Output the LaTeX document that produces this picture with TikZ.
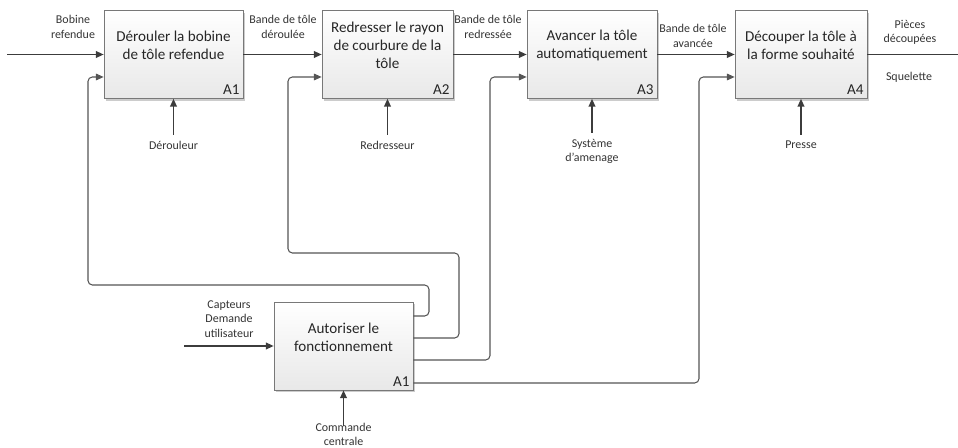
\documentclass[tikz,border=0pt]{standalone}
\usepackage{fontspec}
\setmainfont{Carlito}
\usetikzlibrary{positioning, arrows.meta, shadows}
\definecolor{BoxLine}{RGB}{120,120,120}
\definecolor{FlowGray}{RGB}{60,60,60}
\definecolor{LinkGray}{RGB}{85,85,85}

\begin{document}
\begin{tikzpicture}[x=0.02cm, y=-0.02cm,
          func/.style={rectangle, draw=BoxLine, top color=white,
                       bottom color=black!9, minimum height=1.76cm,
                       inner sep=0pt,
                       drop shadow={shadow xshift=1.2pt, shadow yshift=-1.2pt,
                                    opacity=0.2, fill=black}},
          ftext/.style={font=\fontsize{8.6}{10.3}\selectfont, align=center,
                        text=black!85},
          num/.style={font=\fontsize{8.6}{10.3}\selectfont, text=black!85,
                      anchor=south east, inner sep=2pt},
          lbl/.style={font=\fontsize{6.8}{8.3}\selectfont, align=center,
                      text=black!80},
          arr/.style={-{Triangle[length=4.4pt, width=3.8pt]}, thick, FlowGray},
          ctl/.style={-{Triangle[length=4.4pt, width=3.8pt]}, semithick,
                      LinkGray, rounded corners=2.5pt}
        ]
        \useasboundingbox (0,0) rectangle (958,448);

        % Functions
        \node[func, minimum width=2.78cm] (A1) at (173.5, 54.5) {};
        \node[func, minimum width=2.62cm] (A2) at (387.5, 54.5) {};
        \node[func, minimum width=2.60cm] (A3) at (592, 54.5) {};
        \node[func, minimum width=2.64cm] (A4) at (801, 54.5) {};
        \node[func, minimum width=2.78cm] (Z)  at (343.5, 346) {};

        \node[ftext] (t1) at ([yshift=5.1pt]A1.center)
              {Dérouler la bobine\\de tôle refendue};
        \node[ftext] (t2) at ([yshift=5.1pt]A2.center)
              {Redresser le rayon\\de courbure de la\\tôle};
        \node[ftext] (t3) at ([yshift=5.1pt]A3.center)
              {Avancer la tôle\\automatiquement};
        \node[ftext] (t4) at ([yshift=5.1pt]A4.center)
              {Découper la tôle à\\la forme souhaité};
        \node[ftext] (tz) at ([yshift=5.1pt]Z.center)
              {Autoriser le\\fonctionnement};

        \node[num] (n1) at (A1.south east) {A1};
        \node[num] (n2) at (A2.south east) {A2};
        \node[num] (n3) at (A3.south east) {A3};
        \node[num] (n4) at (A4.south east) {A4};
        \node[num] (nz) at (Z.south east)  {A1};

        % Flow labels
        \node[lbl] (l0) at (73, 27)   {Bobine\\refendue};
        \node[lbl] (l1) at (283, 27)  {Bande de tôle\\déroulée};
        \node[lbl] (l2) at (488, 27)  {Bande de tôle\\redressée};
        \node[lbl] (l3) at (693, 36)  {Bande de tôle\\avancée};
        \node[lbl] (l4) at (910, 32.5) {Pièces\\découpées};
        \node[lbl] (l5) at (909, 77)  {Squelette};
        \node[lbl] (lz) at (229, 319) {Capteurs\\Demande\\utilisateur};

        % Mechanisms
        \node[lbl] (m1) at (173.5, 145) {Dérouleur};
        \node[lbl] (m2) at (387.5, 145) {Redresseur};
        \node[lbl] (m3) at (592, 151.5) {Système\\d’amenage};
        \node[lbl] (m4) at (801, 145)   {Presse};
        \node[lbl] (mz) at (343.5, 434.5) {Commande\\centrale};

        % Free ends
        \coordinate (in)  at (7, 54.5);
        \coordinate (out) at (958, 54.5);
        \coordinate (zin) at (184, 346);

        % Main flow
        \draw[arr] (in) -- (A1);
        \draw[arr] (A1) -- (A2);
        \draw[arr] (A2) -- (A3);
        \draw[arr] (A3) -- (A4);
        \draw[thick, FlowGray] (A4) -- (out);
        \draw[arr] (zin) -- (Z);

        % Mechanism arrows
        \draw[arr] (m1) -- (A1);
        \draw[arr] (m2) -- (A2);
        \draw[arr] (m3) -- (A3);
        \draw[arr] (m4) -- (A4);
        \draw[arr] ([yshift=-5pt]mz.north) -- (Z);

        % Authorisation links
        \draw[ctl] (Z.east |- 0,316) -| (429,285) -| (88,77)
              -- (A1.west |- 0,77);
        \draw[ctl] (Z.east |- 0,338) -| (459,253) -| (288,77)
              -- (A2.west |- 0,77);
        \draw[ctl] (Z.east |- 0,360) -| (490,77) -- (A3.west |- 0,77);
        \draw[ctl] (Z.east |- 0,383) -| (699,77) -- (A4.west |- 0,77);
      \end{tikzpicture}
\end{document}
